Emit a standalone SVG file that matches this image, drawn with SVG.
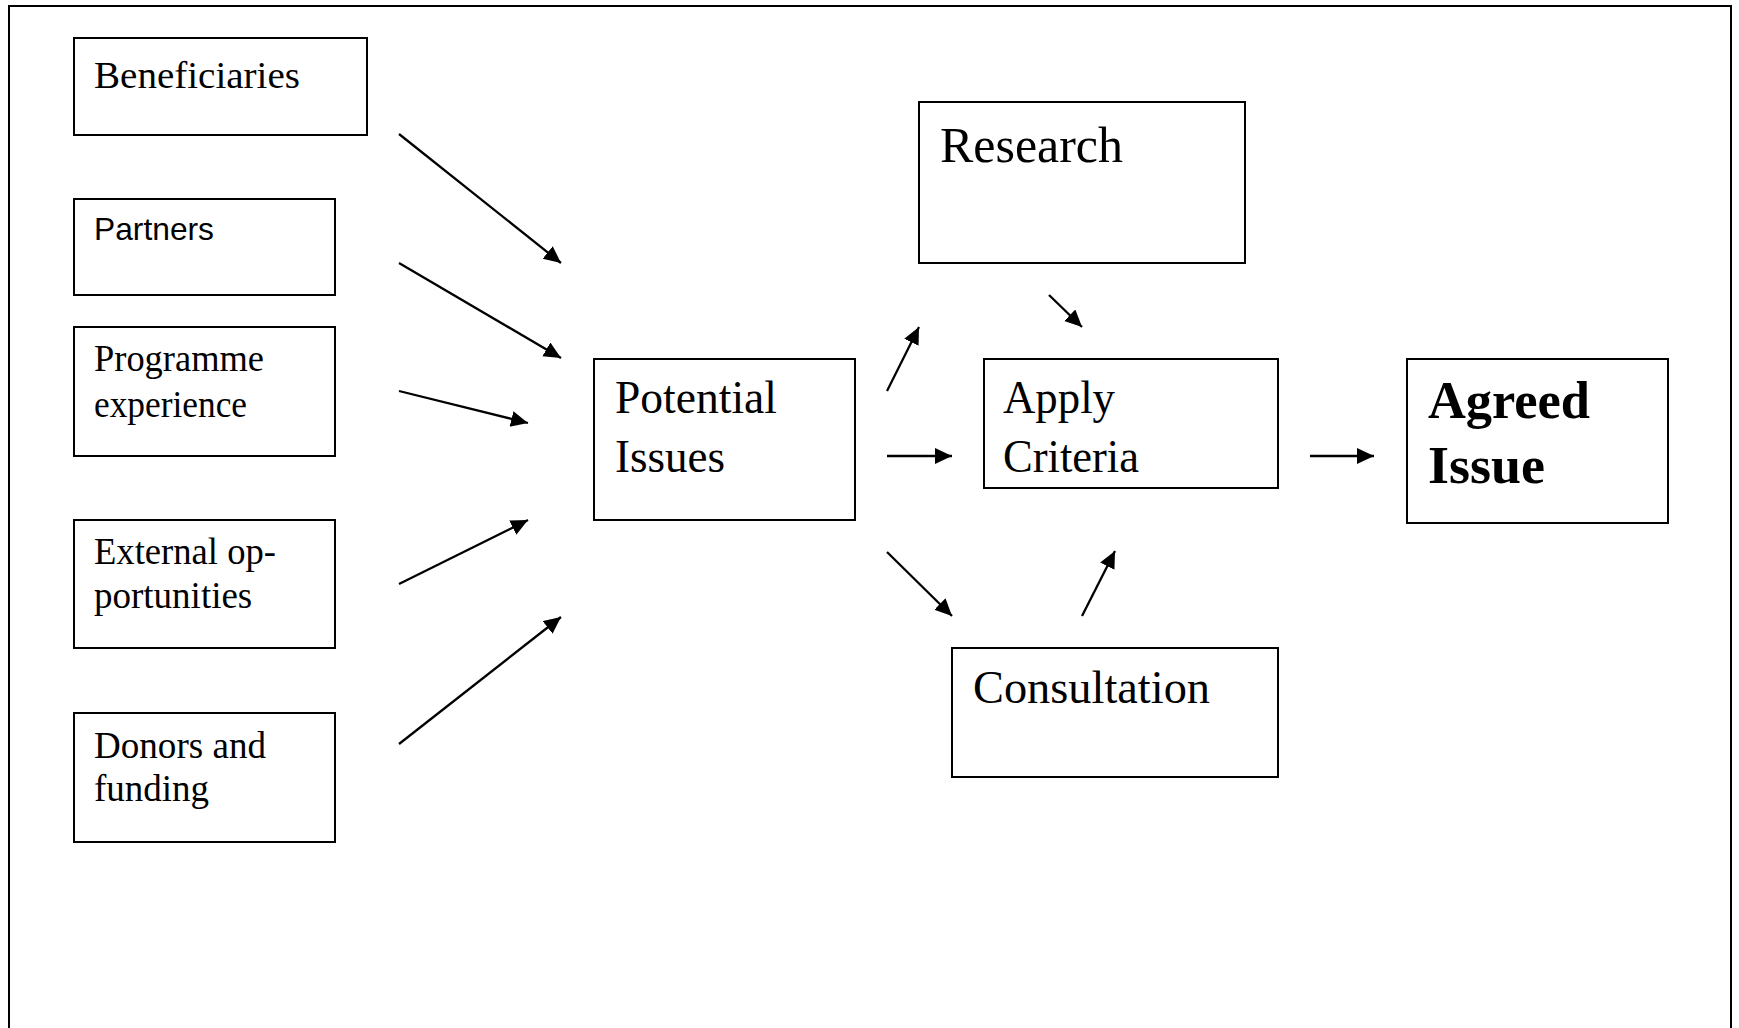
<svg xmlns="http://www.w3.org/2000/svg" width="1739" height="1028" viewBox="0 0 1739 1028">
<style>
.box{fill:#fff;stroke:#000;stroke-width:2}
.t{font-family:"Liberation Serif","Times New Roman",serif;fill:#000}
.s{font-family:"Liberation Sans",Arial,sans-serif;fill:#000}
.c{stroke:#000;stroke-width:2.3;fill:none;marker-end:url(#ah)}
</style>
<defs>
<marker id="ah" markerUnits="userSpaceOnUse" markerWidth="19" markerHeight="17" refX="17" refY="8" orient="auto">
<path d="M0,0 L17,8 L0,16 z" fill="#000"/>
</marker>
</defs>
<rect width="1739" height="1028" fill="#fff"/>
<path d="M9,1028 V6 H1731 V1028" fill="none" stroke="#000" stroke-width="2"/>
<g id="beneficiaries"><rect class="box" x="74" y="38" width="293" height="97"/><text class="t" x="94" y="88" font-size="38" textLength="206" lengthAdjust="spacingAndGlyphs">Beneficiaries</text></g>
<g id="partners"><rect class="box" x="74" y="199" width="261" height="96"/><text class="s" x="94" y="240" font-size="32" textLength="120" lengthAdjust="spacingAndGlyphs">Partners</text></g>
<g id="programme"><rect class="box" x="74" y="327" width="261" height="129"/><text class="t" font-size="37"><tspan x="94" y="371" textLength="170" lengthAdjust="spacingAndGlyphs">Programme</tspan><tspan x="94" y="417" textLength="153" lengthAdjust="spacingAndGlyphs">experience</tspan></text></g>
<g id="external"><rect class="box" x="74" y="520" width="261" height="128"/><text class="t" font-size="37"><tspan x="94" y="564" textLength="182" lengthAdjust="spacingAndGlyphs">External op-</tspan><tspan x="94" y="608">portunities</tspan></text></g>
<g id="donors"><rect class="box" x="74" y="713" width="261" height="129"/><text class="t" font-size="37"><tspan x="94" y="758" textLength="172" lengthAdjust="spacingAndGlyphs">Donors and</tspan><tspan x="94" y="801">funding</tspan></text></g>
<g id="potential"><rect class="box" x="594" y="359" width="261" height="161"/><text class="t" font-size="46"><tspan x="615" y="413" textLength="162" lengthAdjust="spacingAndGlyphs">Potential</tspan><tspan x="615" y="472" textLength="110" lengthAdjust="spacingAndGlyphs">Issues</tspan></text></g>
<g id="research"><rect class="box" x="919" y="102" width="326" height="161"/><text class="t" x="940" y="162" font-size="50" textLength="183" lengthAdjust="spacingAndGlyphs">Research</text></g>
<g id="apply"><rect class="box" x="984" y="359" width="294" height="129"/><text class="t" font-size="46"><tspan x="1003" y="413" textLength="112" lengthAdjust="spacingAndGlyphs">Apply</tspan><tspan x="1003" y="472" textLength="136" lengthAdjust="spacingAndGlyphs">Criteria</tspan></text></g>
<g id="consultation"><rect class="box" x="952" y="648" width="326" height="129"/><text class="t" x="973" y="703" font-size="46" textLength="237" lengthAdjust="spacingAndGlyphs">Consultation</text></g>
<g id="agreed"><rect class="box" x="1407" y="359" width="261" height="164"/><text class="t" font-size="52" font-weight="bold"><tspan x="1428" y="418" textLength="162" lengthAdjust="spacingAndGlyphs">Agreed</tspan><tspan x="1428" y="483" textLength="117" lengthAdjust="spacingAndGlyphs">Issue</tspan></text></g>
<g id="connectors">
<line class="c" x1="399" y1="134" x2="561" y2="263"/>
<line class="c" x1="399" y1="263" x2="561" y2="358"/>
<line class="c" x1="399" y1="391" x2="528" y2="423"/>
<line class="c" x1="399" y1="584" x2="528" y2="520"/>
<line class="c" x1="399" y1="744" x2="561" y2="617"/>
<line class="c" x1="887" y1="391" x2="919" y2="327"/>
<line class="c" x1="887" y1="456" x2="952" y2="456"/>
<line class="c" x1="887" y1="552" x2="952" y2="616"/>
<line class="c" x1="1049" y1="295" x2="1082" y2="327"/>
<line class="c" x1="1082" y1="616" x2="1115" y2="551"/>
<line class="c" x1="1310" y1="456" x2="1374" y2="456"/>
</g>
</svg>
